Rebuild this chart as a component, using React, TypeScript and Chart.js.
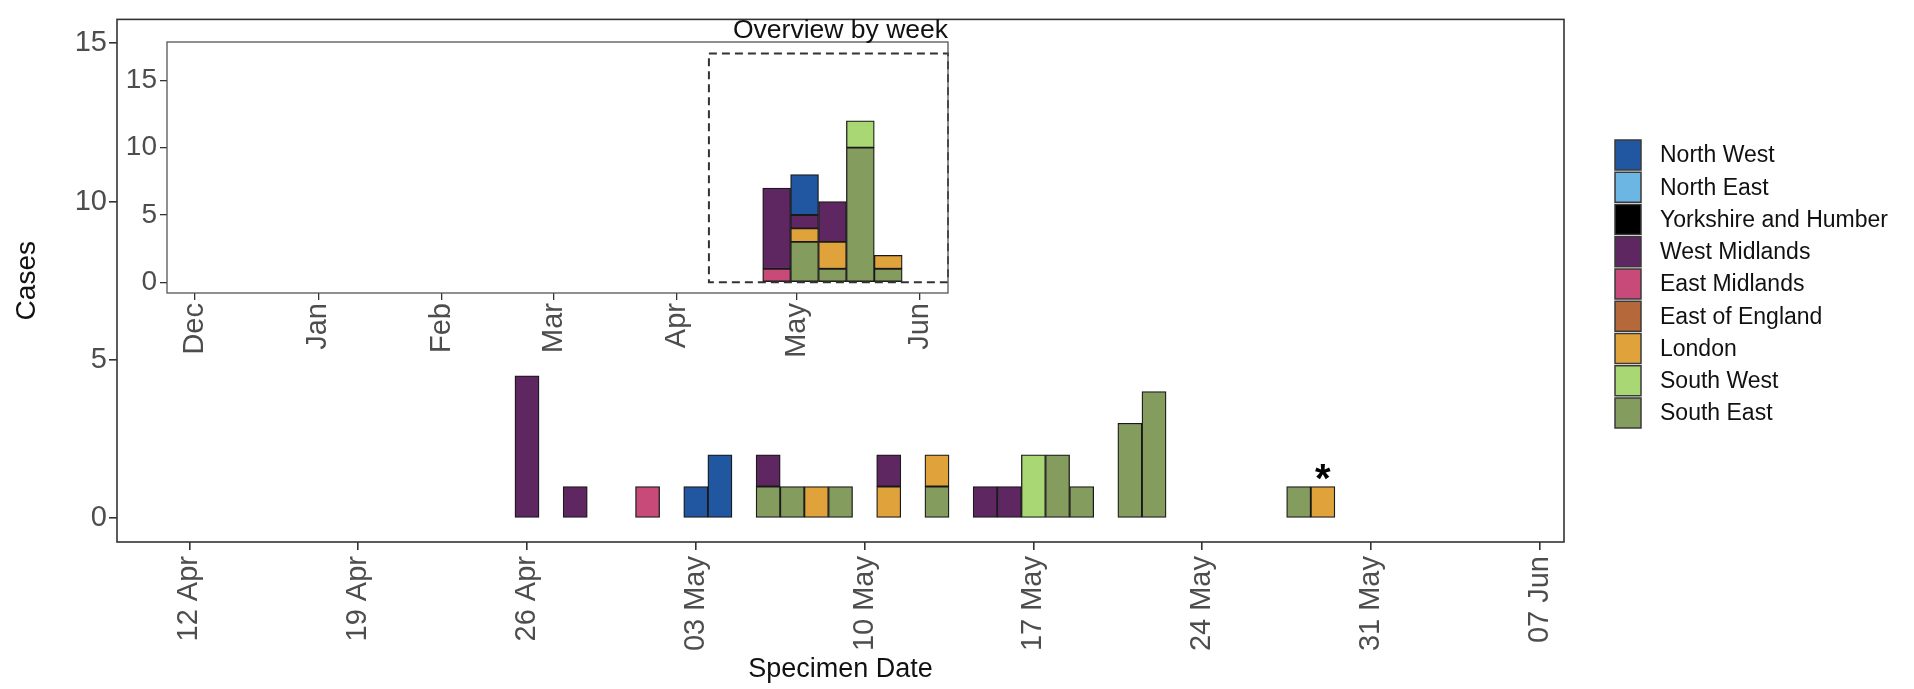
import React, { useEffect, useRef } from 'react';
import { Chart, registerables } from 'chart.js';

Chart.register(...registerables);

// ---------- categories ----------
const REGIONS = [
  'North West',
  'North East',
  'Yorkshire and Humber',
  'West Midlands',
  'East Midlands',
  'East of England',
  'London',
  'South West',
  'South East',
];
const REGION_COLORS = [
  '#2157a1',
  '#6cb6e3',
  '#000000',
  '#5f2762',
  '#c84a79',
  '#b5693b',
  '#e0a23a',
  '#a9d774',
  '#849c5e',
];

// ---------- daily cases (main panel) ----------
const DAILY_DATES = [
  '2021-04-26', '2021-04-28', '2021-05-01', '2021-05-03', '2021-05-04',
  '2021-05-06', '2021-05-07', '2021-05-08', '2021-05-09', '2021-05-11',
  '2021-05-13', '2021-05-15', '2021-05-16', '2021-05-17', '2021-05-18',
  '2021-05-19', '2021-05-21', '2021-05-22', '2021-05-28', '2021-05-29',
];
const DAILY_NORTH_WEST = [0, 0, 0, 1, 2, 0, 0, 0, 0, 0, 0, 0, 0, 0, 0, 0, 0, 0, 0, 0];
const DAILY_NORTH_EAST = [0, 0, 0, 0, 0, 0, 0, 0, 0, 0, 0, 0, 0, 0, 0, 0, 0, 0, 0, 0];
const DAILY_YORKSHIRE = [0, 0, 0, 0, 0, 0, 0, 0, 0, 0, 0, 0, 0, 0, 0, 0, 0, 0, 0, 0];
const DAILY_WEST_MIDLANDS = [4.5, 1, 0, 0, 0, 1, 0, 0, 0, 1, 0, 1, 1, 0, 0, 0, 0, 0, 0, 0];
const DAILY_EAST_MIDLANDS = [0, 0, 1, 0, 0, 0, 0, 0, 0, 0, 0, 0, 0, 0, 0, 0, 0, 0, 0, 0];
const DAILY_EAST_OF_ENGLAND = [0, 0, 0, 0, 0, 0, 0, 0, 0, 0, 0, 0, 0, 0, 0, 0, 0, 0, 0, 0];
const DAILY_LONDON = [0, 0, 0, 0, 0, 0, 0, 1, 0, 1, 1, 0, 0, 0, 0, 0, 0, 0, 0, 1];
const DAILY_SOUTH_WEST = [0, 0, 0, 0, 0, 0, 0, 0, 0, 0, 0, 0, 0, 2, 0, 0, 0, 0, 0, 0];
const DAILY_SOUTH_EAST = [0, 0, 0, 0, 0, 1, 1, 0, 1, 0, 1, 0, 0, 0, 2, 1, 3, 4, 1, 0];

// ---------- weekly cases (inset) ----------
const WEEK_STARTS = ['2021-04-26', '2021-05-03', '2021-05-10', '2021-05-17', '2021-05-24'];
const WEEKLY_NORTH_WEST = [0, 3, 0, 0, 0];
const WEEKLY_NORTH_EAST = [0, 0, 0, 0, 0];
const WEEKLY_YORKSHIRE = [0, 0, 0, 0, 0];
const WEEKLY_WEST_MIDLANDS = [6, 1, 3, 0, 0];
const WEEKLY_EAST_MIDLANDS = [1, 0, 0, 0, 0];
const WEEKLY_EAST_OF_ENGLAND = [0, 0, 0, 0, 0];
const WEEKLY_LONDON = [0, 1, 2, 0, 1];
const WEEKLY_SOUTH_WEST = [0, 0, 0, 2, 0];
const WEEKLY_SOUTH_EAST = [0, 3, 1, 10, 1];

// ---------- axes ----------
const MAIN_TICK_DATES = [
  '2021-04-12', '2021-04-19', '2021-04-26', '2021-05-03', '2021-05-10',
  '2021-05-17', '2021-05-24', '2021-05-31', '2021-06-07',
];
const MAIN_TICK_LABELS = ['12 Apr', '19 Apr', '26 Apr', '03 May', '10 May', '17 May', '24 May', '31 May', '07 Jun'];
const MAIN_X_LIMITS = ['2021-04-09', '2021-06-08'];
const MAIN_Y_LIMITS = [-0.75, 15.75];
const MAIN_Y_TICKS = [0, 5, 10, 15];

const INSET_TICK_DATES = ['2020-12-01', '2021-01-01', '2021-02-01', '2021-03-01', '2021-04-01', '2021-05-01', '2021-06-01'];
const INSET_TICK_LABELS = ['Dec', 'Jan', 'Feb', 'Mar', 'Apr', 'May', 'Jun'];
const INSET_X_LIMITS = ['2020-11-24', '2021-06-08'];
const INSET_Y_LIMITS = [-0.8, 17.85];
const INSET_Y_TICKS = [0, 5, 10, 15];

const ZOOM_BOX_X = ['2021-04-09', '2021-06-08'];
const ZOOM_BOX_Y = [0, 17];

const ASTERISK_DATES = ['2021-05-29'];
const ASTERISK_LEVELS = [1.5];

const MAIN_X_TITLE = 'Specimen Date';
const MAIN_Y_TITLE = 'Cases';
const INSET_TITLE = 'Overview by week';

// ---------- helpers ----------
const SANS = "'Liberation Sans', Arial, Helvetica, sans-serif";
const NARROW = "'Liberation Sans Narrow', 'Arial Narrow', 'Liberation Sans', Arial, sans-serif";

const dayNum = (s: string) => {
  const [y, m, d] = s.split('-').map(Number);
  return Date.UTC(y, m - 1, d) / 86400000;
};

const DAILY_BY_REGION = [
  DAILY_NORTH_WEST, DAILY_NORTH_EAST, DAILY_YORKSHIRE, DAILY_WEST_MIDLANDS, DAILY_EAST_MIDLANDS,
  DAILY_EAST_OF_ENGLAND, DAILY_LONDON, DAILY_SOUTH_WEST, DAILY_SOUTH_EAST,
];
const WEEKLY_BY_REGION = [
  WEEKLY_NORTH_WEST, WEEKLY_NORTH_EAST, WEEKLY_YORKSHIRE, WEEKLY_WEST_MIDLANDS, WEEKLY_EAST_MIDLANDS,
  WEEKLY_EAST_OF_ENGLAND, WEEKLY_LONDON, WEEKLY_SOUTH_WEST, WEEKLY_SOUTH_EAST,
];

function buildDatasets(dates: string[], byRegion: number[][]) {
  const out: any[] = [];
  // stack from the bottom: last legend entry first
  for (let r = REGIONS.length - 1; r >= 0; r--) {
    const data = dates
      .map((d, i) => ({ x: dayNum(d), y: byRegion[r][i] }))
      .filter((p) => p.y > 0);
    out.push({
      label: REGIONS[r],
      data,
      backgroundColor: REGION_COLORS[r],
      borderColor: '#1a1a1a',
      borderWidth: 1.3,
      borderSkipped: false,
      barPercentage: 1,
      categoryPercentage: 1,
    });
  }
  return out;
}

const mainDecor = {
  id: 'mainDecor',
  afterDraw(chart: any) {
    const { ctx, chartArea: a, scales } = chart;
    ctx.save();
    // panel border
    ctx.strokeStyle = '#333333';
    ctx.lineWidth = 1.6;
    ctx.strokeRect(a.left, a.top, a.right - a.left, a.bottom - a.top);

    // asterisk annotation
    const starSize = 40;
    ctx.fillStyle = '#000000';
    ctx.font = `bold ${starSize}px ${SANS}`;
    ctx.textAlign = 'center';
    ctx.textBaseline = 'alphabetic';
    ASTERISK_DATES.forEach((d, i) => {
      const x = scales.x.getPixelForValue(dayNum(d));
      const y = scales.y.getPixelForValue(ASTERISK_LEVELS[i]);
      ctx.fillText('*', x, y + 0.53 * starSize);
    });

    // legend
    const boxX = 1615;
    const boxW = 26;
    const boxH = 30;
    const firstY = 155;
    const step = 32.25;
    ctx.font = `23px ${SANS}`;
    ctx.textAlign = 'left';
    ctx.textBaseline = 'middle';
    REGIONS.forEach((name, i) => {
      const cy = firstY + i * step;
      ctx.fillStyle = REGION_COLORS[i];
      ctx.fillRect(boxX, cy - boxH / 2, boxW, boxH);
      ctx.strokeStyle = '#3a3a3a';
      ctx.lineWidth = 1.5;
      ctx.strokeRect(boxX, cy - boxH / 2, boxW, boxH);
      ctx.fillStyle = '#111111';
      ctx.fillText(name, 1660, cy + 1);
    });
    ctx.restore();
  },
};

const insetDecor = {
  id: 'insetDecor',
  beforeDatasetsDraw(chart: any) {
    const { ctx, chartArea: a } = chart;
    ctx.save();
    ctx.fillStyle = '#ffffff';
    ctx.fillRect(a.left, a.top, a.right - a.left, a.bottom - a.top);
    ctx.restore();
  },
  afterDraw(chart: any) {
    const { ctx, chartArea: a, scales } = chart;
    ctx.save();
    const x0 = scales.x.getPixelForValue(dayNum(ZOOM_BOX_X[0]));
    const x1 = scales.x.getPixelForValue(dayNum(ZOOM_BOX_X[1]));
    const y0 = scales.y.getPixelForValue(ZOOM_BOX_Y[0]);
    const y1 = scales.y.getPixelForValue(ZOOM_BOX_Y[1]);
    ctx.setLineDash([8, 5]);
    ctx.strokeStyle = '#333333';
    ctx.lineWidth = 2;
    ctx.strokeRect(x0, y1, x1 - x0, y0 - y1);
    ctx.setLineDash([]);
    ctx.strokeStyle = '#555555';
    ctx.lineWidth = 1.3;
    ctx.strokeRect(a.left, a.top, a.right - a.left, a.bottom - a.top);
    ctx.fillStyle = '#111111';
    ctx.font = `26.5px ${SANS}`;
    ctx.textAlign = 'right';
    ctx.textBaseline = 'alphabetic';
    ctx.fillText(INSET_TITLE, a.right, a.top - 4);
    ctx.restore();
  },
};

function mainConfig(): any {
  return {
    type: 'bar',
    data: { datasets: buildDatasets(DAILY_DATES, DAILY_BY_REGION) },
    options: {
      responsive: false,
      animation: false,
      devicePixelRatio: 1,
      layout: { autoPadding: false, padding: { top: 7, left: 0, right: 350, bottom: 0 } },
      plugins: { legend: { display: false }, tooltip: { enabled: false } },
      scales: {
        x: {
          type: 'linear',
          stacked: true,
          offset: false,
          min: dayNum(MAIN_X_LIMITS[0]),
          max: dayNum(MAIN_X_LIMITS[1]),
          afterBuildTicks: (s: any) => {
            s.ticks = MAIN_TICK_DATES.map((d) => ({ value: dayNum(d) }));
          },
          afterFit: (s: any) => {
            s.height = 147;
          },
          ticks: {
            autoSkip: false,
            minRotation: 90,
            maxRotation: 90,
            padding: 6,
            color: '#4d4d4d',
            font: { family: SANS, size: 29 },
            callback: (_v: any, i: number) => MAIN_TICK_LABELS[i],
          },
          grid: {
            display: true,
            offset: false,
            drawOnChartArea: false,
            drawTicks: true,
            tickLength: 8,
            color: '#333333',
            lineWidth: 1.6,
          },
          border: { display: false },
          title: {
            display: true,
            text: MAIN_X_TITLE,
            color: '#111111',
            font: { family: SANS, size: 27 },
            padding: { top: 0, bottom: 3 },
          },
        },
        y: {
          stacked: true,
          min: MAIN_Y_LIMITS[0],
          max: MAIN_Y_LIMITS[1],
          afterBuildTicks: (s: any) => {
            s.ticks = MAIN_Y_TICKS.map((v) => ({ value: v }));
          },
          afterFit: (s: any) => {
            s.width = 117;
          },
          ticks: {
            padding: 2,
            color: '#4d4d4d',
            font: { family: NARROW, size: 29 },
          },
          grid: {
            display: true,
            drawOnChartArea: false,
            drawTicks: true,
            tickLength: 8,
            color: '#333333',
            lineWidth: 1.6,
          },
          border: { display: false },
          title: {
            display: true,
            text: MAIN_Y_TITLE,
            color: '#111111',
            font: { family: SANS, size: 28 },
            padding: { top: 10, bottom: 0 },
          },
        },
      },
    },
    plugins: [mainDecor],
  };
}

function insetConfig(): any {
  return {
    type: 'bar',
    data: { datasets: buildDatasets(WEEK_STARTS, WEEKLY_BY_REGION) },
    options: {
      responsive: false,
      animation: false,
      devicePixelRatio: 1,
      layout: { autoPadding: false, padding: { top: 42, left: 0, right: 12, bottom: 0 } },
      plugins: { legend: { display: false }, tooltip: { enabled: false } },
      scales: {
        x: {
          type: 'linear',
          stacked: true,
          offset: false,
          min: dayNum(INSET_X_LIMITS[0]),
          max: dayNum(INSET_X_LIMITS[1]),
          afterBuildTicks: (s: any) => {
            s.ticks = INSET_TICK_DATES.map((d) => ({ value: dayNum(d) }));
          },
          afterFit: (s: any) => {
            s.height = 127;
          },
          ticks: {
            autoSkip: false,
            minRotation: 90,
            maxRotation: 90,
            padding: 3,
            color: '#4d4d4d',
            font: { family: SANS, size: 29 },
            callback: (_v: any, i: number) => INSET_TICK_LABELS[i],
          },
          grid: {
            display: true,
            offset: false,
            drawOnChartArea: false,
            drawTicks: true,
            tickLength: 7,
            color: '#333333',
            lineWidth: 1.3,
          },
          border: { display: false },
        },
        y: {
          stacked: true,
          min: INSET_Y_LIMITS[0],
          max: INSET_Y_LIMITS[1],
          afterBuildTicks: (s: any) => {
            s.ticks = INSET_Y_TICKS.map((v) => ({ value: v }));
          },
          afterFit: (s: any) => {
            s.width = 167;
          },
          ticks: {
            padding: 3,
            color: '#4d4d4d',
            font: { family: NARROW, size: 28 },
          },
          grid: {
            display: true,
            drawOnChartArea: false,
            drawTicks: true,
            tickLength: 7,
            color: '#333333',
            lineWidth: 1.3,
          },
          border: { display: false },
        },
      },
    },
    plugins: [insetDecor],
  };
}

export default function App() {
  const mainRef = useRef<HTMLCanvasElement>(null);
  const insetRef = useRef<HTMLCanvasElement>(null);

  useEffect(() => {
    const main = new Chart(mainRef.current as HTMLCanvasElement, mainConfig());
    const inset = new Chart(insetRef.current as HTMLCanvasElement, insetConfig());
    return () => {
      main.destroy();
      inset.destroy();
    };
  }, []);

  return (
    <div style={{ position: 'relative', width: 1914, height: 689, background: '#ffffff', overflow: 'hidden' }}>
      <style>{'html,body{margin:0;padding:0;background:#ffffff;overflow:hidden;}'}</style>
      <canvas
        ref={mainRef}
        width={1914}
        height={689}
        style={{ position: 'absolute', left: 0, top: 0, width: 1914, height: 689 }}
      />
      <canvas
        ref={insetRef}
        width={960}
        height={420}
        style={{ position: 'absolute', left: 0, top: 0, width: 960, height: 420 }}
      />
    </div>
  );
}
